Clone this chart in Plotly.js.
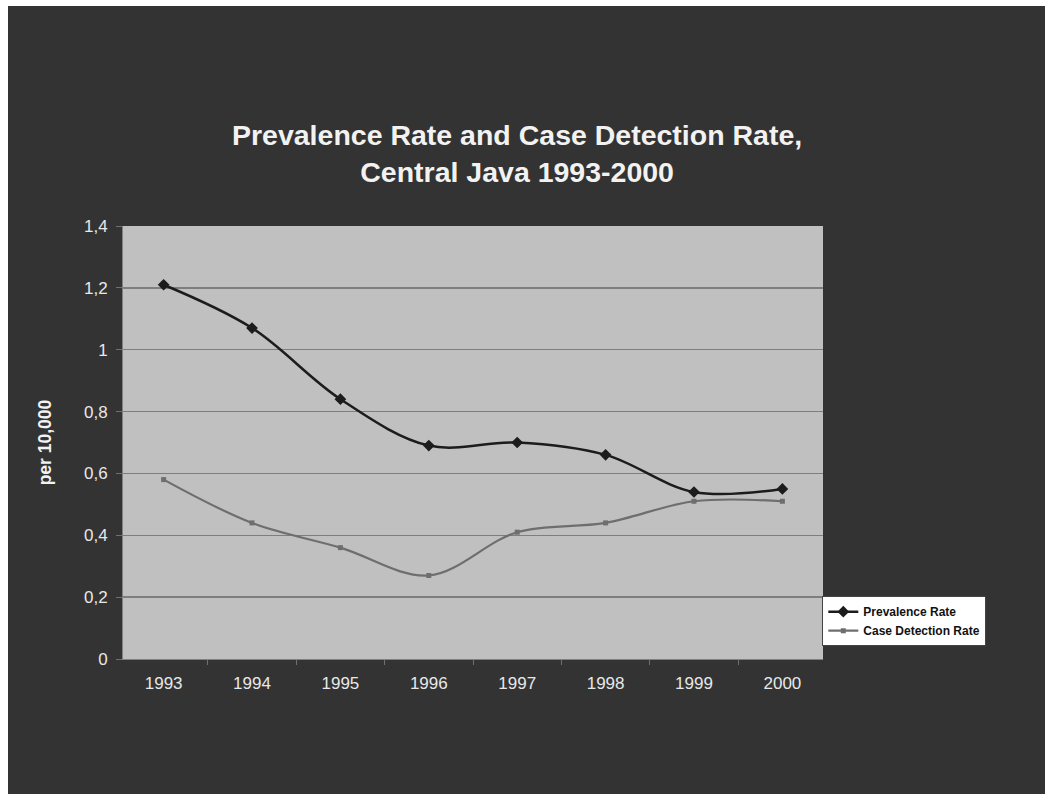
<!DOCTYPE html>
<html>
<head>
<meta charset="utf-8">
<script src="https://cdn.plot.ly/plotly-3.0.1.min.js"></script>
<style>
  html, body { margin: 0; padding: 0; background: #ffffff; width: 1045px; height: 794px; overflow: hidden; }
  #chart { position: absolute; left: 8px; top: 6px; width: 1037px; height: 788px; }
</style>
</head>
<body>
<div id="chart"></div>
<script>
// Yearly rates per 10,000 population, Central Java
const years = ['1993', '1994', '1995', '1996', '1997', '1998', '1999', '2000'];
const prevalenceRate = [1.21, 1.07, 0.84, 0.69, 0.70, 0.66, 0.54, 0.55];
const caseDetectionRate = [0.58, 0.44, 0.36, 0.27, 0.41, 0.44, 0.51, 0.51];
const yTicks = [0, 0.2, 0.4, 0.6, 0.8, 1, 1.2, 1.4];

const FONT = '"Liberation Sans", Arial, sans-serif';

const traces = [
  {
    x: years, y: prevalenceRate, name: 'Prevalence Rate',
    type: 'scatter', mode: 'lines+markers',
    line: { color: '#1c1c1c', width: 2.5, shape: 'spline', smoothing: 1 },
    marker: { symbol: 'diamond', size: 9, color: '#1c1c1c' }
  },
  {
    x: years, y: caseDetectionRate, name: 'Case Detection Rate',
    type: 'scatter', mode: 'lines+markers',
    line: { color: '#6e6e6e', width: 2.2, shape: 'spline', smoothing: 1 },
    marker: { symbol: 'square', size: 5, color: '#6e6e6e' }
  }
];

const layout = {
  width: 1037, height: 788,
  margin: { l: 115, r: 222, t: 220, b: 135 },
  paper_bgcolor: '#333333',
  plot_bgcolor: '#c0c0c0',
  separators: ', ',
  font: { family: FONT, color: '#e8e8e8', size: 17 },
  title: {
    text: '<b>Prevalence Rate and Case Detection Rate,<br>Central Java 1993-2000</b>',
    font: { family: FONT, size: 28.5, color: '#f2f2f2' },
    xref: 'paper', x: 0.563, xanchor: 'center',
    yref: 'container', y: 0.824, yanchor: 'middle'
  },
  xaxis: {
    type: 'category',
    tickson: 'boundaries',
    ticks: 'outside', ticklen: 5, tickcolor: '#707070',
    showgrid: false, zeroline: false,
    showline: true, linecolor: '#808080', linewidth: 1,
    tickfont: { family: FONT, size: 17, color: '#e8e8e8' },
    ticklabelstandoff: 9
  },
  yaxis: {
    range: [0, 1.4],
    tickvals: yTicks,
    ticks: 'outside', ticklen: 6, tickcolor: '#707070',
    showgrid: true, gridcolor: '#7e7e7e', gridwidth: 1.5,
    zeroline: false,
    showline: true, linecolor: '#808080', linewidth: 1,
    tickfont: { family: FONT, size: 17, color: '#e8e8e8' },
    ticklabelstandoff: 5,
    title: { text: '<b>per 10,000</b>', font: { family: FONT, size: 17.5, color: '#f2f2f2' }, standoff: 27 }
  },
  showlegend: true,
  legend: {
    x: 0.999, xanchor: 'left', y: 0.145, yanchor: 'top',
    bgcolor: '#ffffff', bordercolor: '#444444', borderwidth: 1,
    font: { family: FONT, size: 12, color: '#111111', weight: 'bold' },
    itemwidth: 30, tracegroupgap: 0
  }
};

Plotly.newPlot('chart', traces, layout, { displayModeBar: false, staticPlot: true });
</script>
</body>
</html>
